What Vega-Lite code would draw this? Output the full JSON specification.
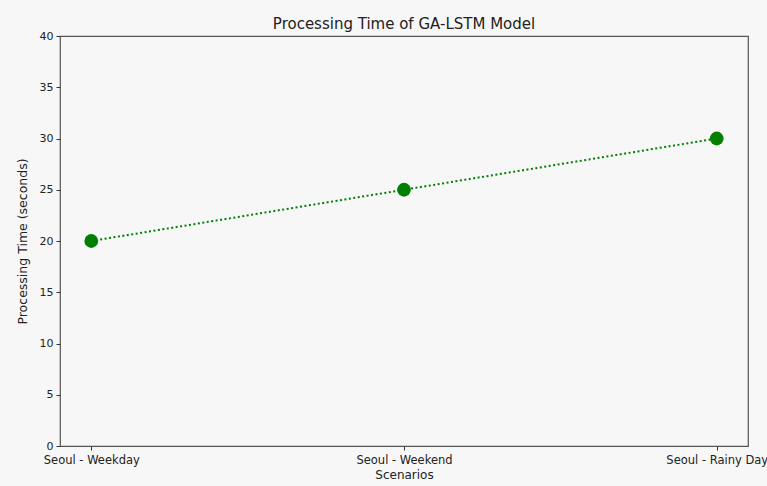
{
  "$schema": "https://vega.github.io/schema/vega-lite/v6.json",
  "width": 688,
  "height": 410,
  "autosize": {"type": "none"},
  "padding": {"left": 60, "top": 36, "right": 19, "bottom": 40},
  "background": "#f7f7f7",
  "config": {
    "font": "DejaVu Sans",
    "view": {"stroke": "#555555", "strokeWidth": 1.2, "fill": "#f7f7f7"},
    "axis": {
      "grid": false,
      "domain": false,
      "tickColor": "#333333",
      "tickSize": 4,
      "labelColor": "#222222",
      "labelFontSize": 11,
      "titleColor": "#222222",
      "titleFontSize": 12,
      "titleFontWeight": "normal"
    }
  },
  "title": {
    "text": "Processing Time of GA-LSTM Model",
    "fontSize": 15,
    "fontWeight": "normal",
    "color": "#222222",
    "offset": 8,
    "dy": 10
  },
  "data": {
    "values": [
      {"scenario": "Seoul - Weekday", "time": 20},
      {"scenario": "Seoul - Weekend", "time": 25},
      {"scenario": "Seoul - Rainy Day", "time": 30}
    ]
  },
  "encoding": {
    "x": {
      "field": "scenario",
      "type": "ordinal",
      "sort": null,
      "scale": {"type": "point", "padding": 0.1},
      "axis": {"title": "Scenarios", "labelAngle": 0, "labelFontSize": 11.5, "labelOverlap": false, "labelBound": false, "labelPadding": 4, "titlePadding": 4}
    },
    "y": {
      "field": "time",
      "type": "quantitative",
      "scale": {"domain": [0, 40], "nice": false},
      "axis": {"title": "Processing Time (seconds)", "titleFontSize": 12.5, "values": [0, 5, 10, 15, 20, 25, 30, 35, 40], "labelPadding": 3, "titlePadding": 10}
    }
  },
  "layer": [
    {
      "mark": {"type": "line", "color": "#008000", "strokeWidth": 2, "strokeDash": [2, 2.5]}
    },
    {
      "mark": {"type": "point", "shape": "circle", "filled": true, "color": "#008000", "opacity": 1, "size": 190}
    }
  ]
}
